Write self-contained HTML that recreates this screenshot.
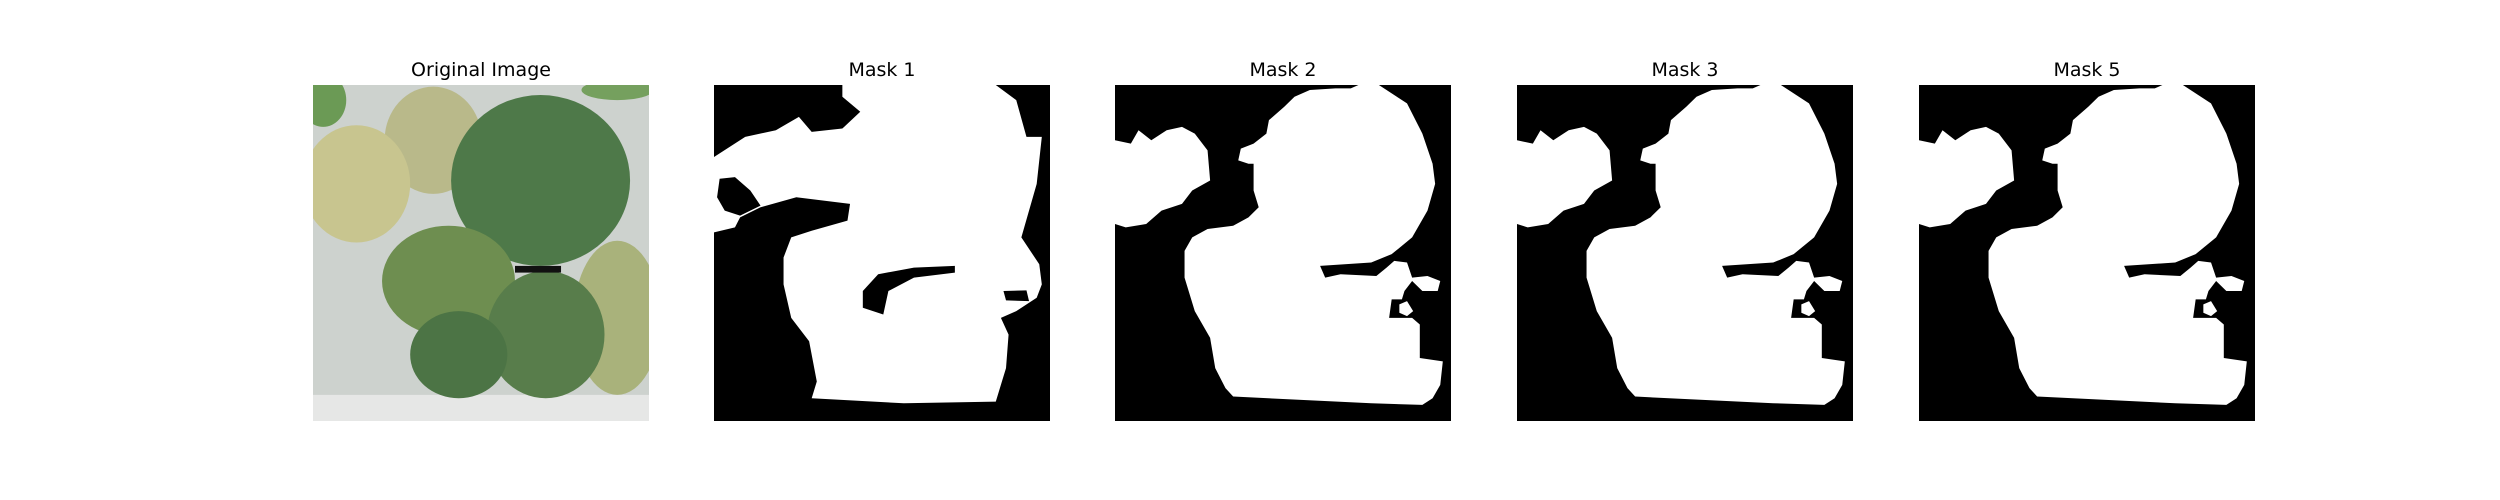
<!DOCTYPE html>
<html><head><meta charset="utf-8"><style>
body{margin:0;width:2500px;height:500px;background:#fff;position:relative;overflow:hidden;font-family:"DejaVu Sans","Liberation Sans",sans-serif}
.t{position:absolute;top:59px;width:336px;text-align:center;font-size:19px;color:#000}
svg.p{position:absolute;top:85px;width:336px;height:336px}
</style></head><body>
<div class="t" style="left:313px">Original Image</div>
<div class="t" style="left:714px">Mask 1</div>
<div class="t" style="left:1115px">Mask 2</div>
<div class="t" style="left:1517px">Mask 3</div>
<div class="t" style="left:1919px">Mask 5</div>

<svg class="p" style="left:313px" viewBox="25 105 657 1003" preserveAspectRatio="none">
<rect x="25" y="105" width="657" height="1003" fill="#cdd2ce"/>
<rect x="25" y="1030" width="657" height="78" fill="#e6e7e6"/>
<ellipse cx="45" cy="150" rx="45" ry="80" fill="#6b9a55"/>
<ellipse cx="620" cy="120" rx="70" ry="30" fill="#75a05e"/>
<ellipse cx="260" cy="270" rx="95" ry="160" fill="#b9b98a"/>
<ellipse cx="110" cy="400" rx="105" ry="175" fill="#c8c58f"/>
<ellipse cx="470" cy="390" rx="175" ry="255" fill="#4e7949"/>
<ellipse cx="620" cy="800" rx="85" ry="230" fill="#a9b27b"/>
<ellipse cx="290" cy="690" rx="130" ry="165" fill="#6e8e50"/>
<ellipse cx="480" cy="850" rx="115" ry="190" fill="#587d4b"/>
<ellipse cx="310" cy="910" rx="95" ry="130" fill="#4c7445"/>
<rect x="420" y="645" width="90" height="20" fill="#111"/>
</svg>

<svg class="p" style="left:714px" viewBox="809 105 657 1003" preserveAspectRatio="none">
<rect x="809" y="105" width="657" height="1003" fill="#000"/>
<path fill="#fff" fill-rule="evenodd" d="M1060,105 L1360,105 1400,150 1420,260 1450,260 1440,400 1410,560 1445,640 1450,700 1440,740 1400,780 1370,800 1385,850 1380,950 1360,1050 1180,1055 1000,1040 1010,990 995,870 960,800 945,700 945,620 960,560 1000,540 1070,510 1075,460 970,440 900,470 860,500 850,530 809,545 809,320 870,260 930,240 975,200 1000,245 1060,235 1095,185 1060,140 Z M820,385 L850,380 880,420 900,465 860,495 830,480 815,440 Z M1130,670 L1200,650 1280,645 1280,665 1200,680 1150,720 1140,790 1100,770 1100,720 Z M1375,720 L1420,718 1425,750 1380,748 Z"/>
</svg>

<script>
const pts="M505,105 L545,105 600,160 630,250 650,340 655,400 640,480 610,560 570,610 530,635 430,645 440,680 470,670 540,675 560,650 575,630 600,635 610,680 640,675 665,690 660,720 630,720 610,690 595,720 590,745 570,745 565,800 610,800 625,820 625,920 670,930 665,1000 650,1040 630,1060 530,1055 260,1035 245,1010 225,950 215,860 185,780 165,680 165,600 180,560 210,535 260,525 290,500 310,470 300,420 300,340 290,340 270,330 275,295 300,280 325,250 330,210 360,170 380,140 410,120 460,115 490,115 Z M29,270 L60,280 75,240 100,270 130,240 160,230 185,250 210,300 215,390 180,420 160,460 120,480 90,520 50,530 29,520 Z M585,760 L600,750 612,780 600,795 585,785 Z";
[["mask-2",1115],["mask-3",1517],["mask-5",1919]].forEach(([n,x])=>{
const s=document.createElementNS("http://www.w3.org/2000/svg","svg");


s.setAttribute("class","p");s.style.left=x+"px";
s.setAttribute("viewBox","29 105 657 1003");s.setAttribute("preserveAspectRatio","none");
s.innerHTML='<rect x="29" y="105" width="657" height="1003" fill="#000"/><path fill="#fff" fill-rule="evenodd" d="'+pts+'"/>';
document.body.appendChild(s);});
</script>
</body></html>
